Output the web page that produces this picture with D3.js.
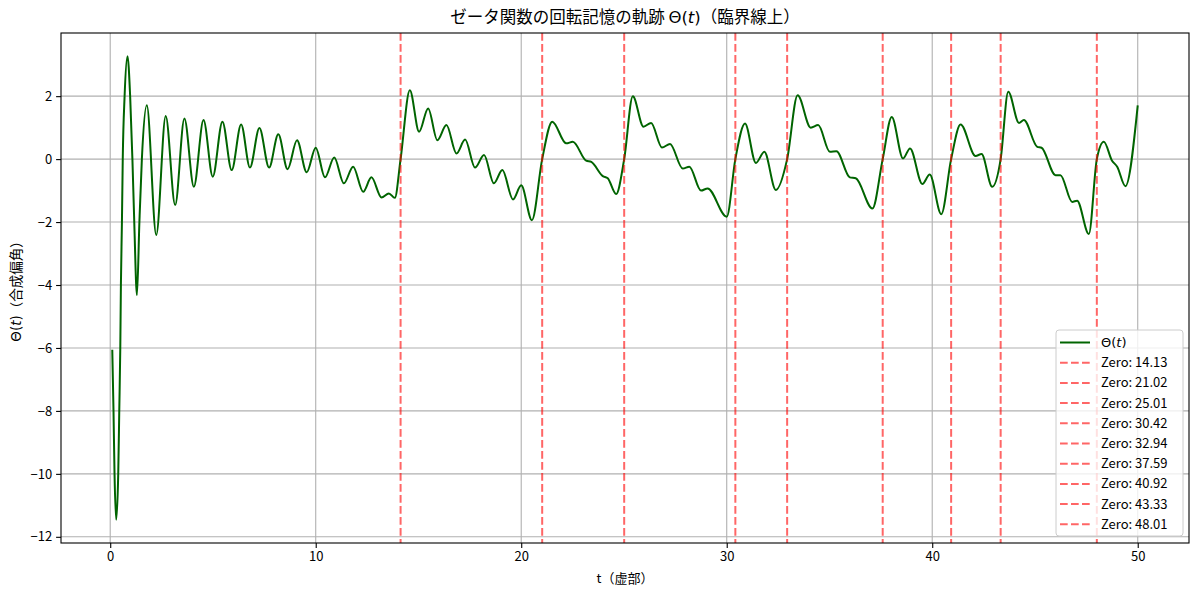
<!DOCTYPE html>
<html><head><meta charset="utf-8">
<script src="https://cdn.jsdelivr.net/npm/d3@7"></script>
<style>
html,body{margin:0;padding:0;background:#fff;}
svg text{font-family:"Noto Sans CJK JP","Noto Sans",sans-serif;fill:#000;}
</style></head>
<body><svg id="c" width="1200" height="595"></svg>
<script>
// t (imaginary part) and Θ(t)
const tVals = [0.10,0.16,0.21,0.29,0.39,0.44,0.49,0.52,0.57,0.61,0.70,0.84,0.97,1.08,1.17,1.30,1.42,1.54,1.78,
 2.24,2.70,3.16,3.61,4.07,4.54,4.99,5.46,5.91,6.37,6.80,7.26,7.73,8.18,8.63,9.09,9.56,10.0,10.45,10.90,11.37,11.82,
 12.31,12.71,13.20,13.56,13.85,14.13,14.58,15.03,15.47,15.92,16.36,16.85,17.27,17.75,18.19,18.67,19.08,19.60,20.0,
 20.52,21.02,21.51,22.19,22.51,23.16,23.41,23.97,24.21,24.62,25.01,25.43,25.95,26.32,26.85,27.24,27.86,28.18,28.75,
 29.07,30.0,30.42,30.89,31.42,31.83,32.39,32.94,33.45,34.09,34.45,35.02,35.34,35.99,36.28,37.09,37.59,38.03,38.58,
 38.92,39.52,39.88,40.44,40.92,41.38,42.11,42.40,42.92,43.33,43.70,44.22,44.46,45.11,45.32,46.0,46.24,46.81,47.05,
 47.62,48.01,48.35,48.75,49.0,49.40,50.0];
const thetaVals = [-6.06,-8.0,-10.0,-11.46,-10.0,-8.0,-6.0,-4.0,-2.0,0.0,2.0,3.27,2.0,0.0,-2.0,-4.32,-2.0,0.0,1.71,
 -2.41,1.37,-1.46,1.29,-0.88,1.24,-0.56,1.19,-0.35,1.10,-0.27,0.99,-0.27,0.79,-0.32,0.60,-0.42,0.36,-0.58,0.05,-0.77,-0.24,
 -1.04,-0.58,-1.22,-1.09,-1.23,0.0,2.19,0.87,1.61,0.60,1.08,0.18,0.62,-0.27,0.13,-0.77,-0.35,-1.28,-0.83,
 -1.94,0.0,1.19,0.50,0.55,-0.05,-0.09,-0.54,-0.61,-1.11,0.0,2.0,1.03,1.15,0.37,0.48,-0.30,-0.24,-1.0,
 -0.93,-1.83,0.0,1.13,-0.12,0.23,-0.98,0.0,2.03,1.0,1.08,0.23,0.25,-0.58,-0.61,-1.57,0.0,1.34,0.02,
 0.34,-0.79,-0.49,-1.75,0.0,1.10,0.10,0.16,-0.88,0.0,2.14,1.15,1.24,0.39,0.36,-0.51,-0.51,-1.36,-1.32,
 -2.38,0.0,0.55,-0.05,-0.24,-0.86,1.71];
const zeros = [14.13,21.02,25.01,30.42,32.94,37.59,40.92,43.33,48.01];
const xTicks = [0,10,20,30,40,50];
const yTicks = [-12,-10,-8,-6,-4,-2,0,2];

const svg = d3.select("#c");
const L=61,R=1189,T=33,B=543;
const tx = d3.extent(tVals), ty = d3.extent(thetaVals);
const px=(tx[1]-tx[0])*0.05, py=(ty[1]-ty[0])*0.05;
const x = d3.scaleLinear().domain([tx[0]-px, tx[1]+px]).range([L,R]);
const y = d3.scaleLinear().domain([ty[0]-py, ty[1]+py]).range([B,T]);

// grid
const g = svg.append("g");
g.selectAll(".gx").data(xTicks).join("line").attr("x1",d=>x(d)).attr("x2",d=>x(d)).attr("y1",T).attr("y2",B)
 .attr("stroke","#b0b0b0").attr("stroke-width",1.1);
g.selectAll(".gy").data(yTicks).join("line").attr("y1",d=>y(d)).attr("y2",d=>y(d)).attr("x1",L).attr("x2",R)
 .attr("stroke","#b0b0b0").attr("stroke-width",1.1);

// curve
const data = tVals.map((t,i)=>[t,thetaVals[i]]);
svg.append("clipPath").attr("id","cp").append("rect").attr("x",L).attr("y",T).attr("width",R-L).attr("height",B-T);
svg.append("path").datum(data).attr("clip-path","url(#cp)")
 .attr("d",d3.line().x(d=>x(d[0])).y(d=>y(d[1])).curve(d3.curveMonotoneX))
 .attr("fill","none").attr("stroke","#006400").attr("stroke-width",2).attr("stroke-linejoin","round");

// zero lines
svg.selectAll(".z").data(zeros).join("line").attr("x1",d=>x(d)).attr("x2",d=>x(d)).attr("y1",T).attr("y2",B)
 .attr("stroke","red").attr("stroke-opacity",0.6).attr("stroke-width",2).attr("stroke-dasharray","7.7,3.3");

// axes
const ax = svg.append("g").attr("transform",`translate(0,${B})`)
 .call(d3.axisBottom(x).tickValues(xTicks).tickSize(4.9).tickPadding(4).tickFormat(d3.format("d")));
const ay = svg.append("g").attr("transform",`translate(${L},0)`)
 .call(d3.axisLeft(y).tickValues(yTicks).tickSize(4.9).tickPadding(4).tickFormat(d=>d<0?"−"+Math.abs(d):d));
[ax,ay].forEach(a=>{a.select(".domain").remove();a.selectAll("text").attr("font-size",13).attr("font-family",'"Noto Sans CJK JP",sans-serif');a.selectAll("line").attr("stroke","#000").attr("stroke-width",1.1);});
svg.append("rect").attr("x",L).attr("y",T).attr("width",R-L).attr("height",B-T).attr("fill","none").attr("stroke","#000").attr("stroke-width",1.1);

// title
const title = svg.append("text").attr("x",(L+R)/2).attr("y",23).attr("text-anchor","middle").attr("font-size",16.5);
title.append("tspan").text("ゼータ関数の回転記憶の軌跡 ");
title.append("tspan").attr("font-family","DejaVu Sans").text("Θ(");
title.append("tspan").attr("font-family","DejaVu Sans").attr("font-style","italic").text("t");
title.append("tspan").attr("font-family","DejaVu Sans").text(")");
title.append("tspan").text("（臨界線上）");

// x label
svg.append("text").attr("x",(L+R)/2).attr("y",583).attr("text-anchor","middle").attr("font-size",13).text("t（虚部）");
// y label
const yl = svg.append("text").attr("transform",`translate(21,${(T+B)/2}) rotate(-90)`).attr("text-anchor","middle").attr("font-size",13.5);
yl.append("tspan").attr("font-family","DejaVu Sans").text("Θ(");
yl.append("tspan").attr("font-family","DejaVu Sans").attr("font-style","italic").text("t");
yl.append("tspan").attr("font-family","DejaVu Sans").text(")");
yl.append("tspan").text("（合成偏角）");

// legend
const lg = svg.append("g");
const lx=1056, ly=330, lw=127, rowH=20.2;
lg.append("rect").attr("x",lx).attr("y",ly).attr("width",lw).attr("height",206).attr("rx",3)
 .attr("fill","#fff").attr("fill-opacity",0.8).attr("stroke","#cccccc").attr("stroke-width",1);
const items = [{label:null, color:"#006400", dash:null, op:1}].concat(zeros.map(z=>({label:"Zero: "+z.toFixed(2), color:"red", dash:"7.7,3.3", op:0.6})));
items.forEach((it,i)=>{
  const cy = ly+12.5+i*rowH;
  lg.append("line").attr("x1",lx+4).attr("x2",lx+34).attr("y1",cy).attr("y2",cy)
    .attr("stroke",it.color).attr("stroke-opacity",it.op).attr("stroke-width",2).attr("stroke-dasharray",it.dash);
  const t = lg.append("text").attr("x",lx+45).attr("y",cy+4.5).attr("font-size",13);
  if(it.label===null){
    t.append("tspan").attr("font-family","DejaVu Sans").text("Θ(");
    t.append("tspan").attr("font-family","DejaVu Sans").attr("font-style","italic").text("t");
    t.append("tspan").attr("font-family","DejaVu Sans").text(")");
  } else t.text(it.label);
});
</script></body></html>
